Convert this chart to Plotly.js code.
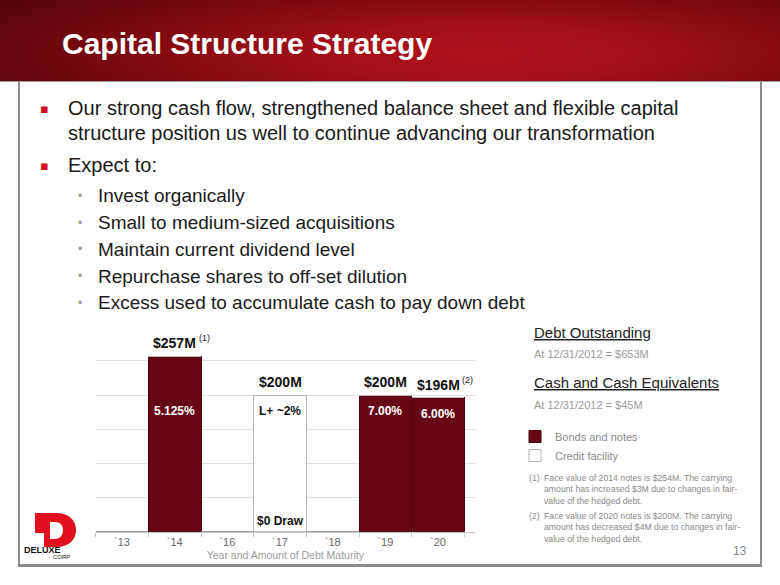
<!DOCTYPE html>
<html>
<head>
<meta charset="utf-8">
<script src="https://cdn.plot.ly/plotly-3.0.1.min.js"></script>
<style>
  html, body { margin:0; padding:0; background:#ffffff; }
  #wrap { position:relative; width:780px; height:585px; overflow:hidden; }
  #header { position:absolute; left:0; top:0; width:780px; height:81px;
    background: radial-gradient(ellipse 72% 120% at 62% 66%, #b3121c 0%, #a10f18 30%, #800a11 60%, #560608 100%);
    border-bottom:1px solid #9a9a9a; }
  #chart { position:absolute; left:0; top:0; width:780px; height:585px; }
</style>
</head>
<body>
<div id="wrap">
  <div id="header"></div>
  <div id="chart"></div>
</div>
<script>
// ---- data ----
const categories = ['`13', '`14', '`16', '`17', '`18', '`19', '`20'];
const bondsNotes = [0, 257, 0, 0, 0, 200, 196];
const creditFacility = [0, 0, 0, 200, 0, 0, 0];
const amountLabels = ['', '$257M', '', '$200M', '', '$200M', '$196M'];
const amountNotes = ['', '(1)', '', '', '', '', '(2)'];
const rateLabels = ['', '5.125%', '', 'L+ ~2%', '', '7.00%', '6.00%'];
const drawLabels = ['', '', '', '$0 Draw', '', '', ''];
const seriesNames = ['Bonds and notes', 'Credit facility'];

const titleText = 'Capital Structure Strategy';
const mainBullets = [
  ['Our strong cash flow, strengthened balance sheet and flexible capital',
   'structure position us well to continue advancing our transformation'],
  ['Expect to:']
];
const subBullets = [
  'Invest organically',
  'Small to medium-sized acquisitions',
  'Maintain current dividend level',
  'Repurchase shares to off-set dilution',
  'Excess used to accumulate cash to pay down debt'
];
const sideHeads = ['Debt Outstanding', 'Cash and Cash Equivalents'];
const sideValues = ['At 12/31/2012 = $653M', 'At 12/31/2012 = $45M'];
const footnoteMarks = ['(1)', '(2)'];
const footnotes = [
  'Face value of 2014 notes is $254M. The carrying<br>amount has increased $3M due to changes in fair-<br>value of the hedged debt.',
  'Face value of 2020 notes is $200M. The carrying<br>amount has decreased $4M due to changes in fair-<br>value of the hedged debt.'
];
const pageNumber = '13';

// ---- helpers (pixel -> paper) ----
const W = 780, H = 585;
const px = x => x / W;
const py = y => 1 - y / H;
const FONT = 'Liberation Sans, Arial, sans-serif';

const BOND = '#660615';

const traces = [
  { type:'bar', name:seriesNames[0], x:categories, y:bondsNotes,
    marker:{ color:BOND, line:{ color:'#4a0410', width:1 } }, hoverinfo:'skip' },
  { type:'bar', name:seriesNames[1], x:categories, y:creditFacility,
    marker:{ color:'#ffffff', line:{ color:'#b4b4b4', width:1 } }, hoverinfo:'skip' }
];

const ann = [];
// bar labels
categories.forEach((c, i) => {
  const total = bondsNotes[i] + creditFacility[i];
  if (amountLabels[i]) {
    ann.push({ x:c, y:total, xref:'x', yref:'y', yanchor:'bottom', yshift:3, showarrow:false,
      text:'<b>' + amountLabels[i] + '</b>', font:{ family:FONT, size:14, color:'#111' } });
  }
  if (amountNotes[i]) {
    ann.push({ x:c, y:total, xref:'x', yref:'y', xanchor:'left', yanchor:'bottom', xshift:22, yshift:11, showarrow:false,
      text:amountNotes[i], font:{ family:FONT, size:9, color:'#222' } });
  }
  if (rateLabels[i]) {
    const isBond = bondsNotes[i] > 0;
    ann.push({ x:c, y:Math.min(total, 200), xref:'x', yref:'y', yanchor:'top', yshift:-7, showarrow:false,
      text:'<b>' + rateLabels[i] + '</b>', font:{ family:FONT, size:12, color:isBond ? '#ffffff' : '#111' } });
  }
  if (drawLabels[i]) {
    ann.push({ x:c, y:0, xref:'x', yref:'y', yanchor:'bottom', yshift:2, showarrow:false,
      text:'<b>' + drawLabels[i] + '</b>', font:{ family:FONT, size:12, color:'#111' } });
  }
});

// bullets text
const mainY = [[108, 133], [165]];
mainBullets.forEach((lines, b) => {
  ann.push({ x:px(38), y:py(mainY[b][0]), xref:'paper', yref:'paper', xanchor:'left', yanchor:'middle', showarrow:false,
    text:'\u25AA', font:{ family:'DejaVu Sans, sans-serif', size:13, color:'#d40f1c' } });
  lines.forEach((t, k) => {
    ann.push({ x:px(66), y:py(mainY[b][k]), xref:'paper', yref:'paper', xanchor:'left', yanchor:'middle', showarrow:false,
      text:t, font:{ family:FONT, size:20, color:'#1a1a1a' } });
  });
});
const subY = [196, 222.7, 249.4, 276.1, 302.7];
subBullets.forEach((t, k) => {
  ann.push({ x:px(76), y:py(subY[k]), xref:'paper', yref:'paper', xanchor:'left', yanchor:'middle', showarrow:false,
    text:'\u2022', font:{ family:FONT, size:12, color:'#9a9a9a' } });
  ann.push({ x:px(96), y:py(subY[k]), xref:'paper', yref:'paper', xanchor:'left', yanchor:'middle', showarrow:false,
    text:t, font:{ family:FONT, size:19, color:'#1a1a1a' } });
});

// side panel
const headY = [332, 382.5], valY = [353.5, 404.5];
sideHeads.forEach((t, k) => {
  ann.push({ x:px(532), y:py(headY[k]), xref:'paper', yref:'paper', xanchor:'left', yanchor:'middle', showarrow:false,
    text:'<u>' + t + '</u>', font:{ family:FONT, size:15, color:'#222' } });
  ann.push({ x:px(532), y:py(valY[k]), xref:'paper', yref:'paper', xanchor:'left', yanchor:'middle', showarrow:false,
    text:sideValues[k], font:{ family:FONT, size:11, color:'#9a9a9a' } });
});
const fnY = [489.3, 527.3];
footnotes.forEach((t, k) => {
  ann.push({ x:px(527), y:py(fnY[k] - 11), xref:'paper', yref:'paper', xanchor:'left', yanchor:'middle', showarrow:false,
    text:footnoteMarks[k], font:{ family:FONT, size:8.7, color:'#8a8a8a' } });
  ann.push({ x:px(542), y:py(fnY[k]), xref:'paper', yref:'paper', xanchor:'left', yanchor:'middle', align:'left', showarrow:false,
    text:t, font:{ family:FONT, size:8.7, color:'#8a8a8a' } });
});
ann.push({ x:px(749), y:py(551), xref:'paper', yref:'paper', xanchor:'right', yanchor:'middle', showarrow:false,
  text:pageNumber, font:{ family:FONT, size:12, color:'#8a8a8a' } });

// logo text
ann.push({ x:px(42.5), y:py(550), xref:'paper', yref:'paper', xanchor:'center', yanchor:'middle', showarrow:false,
  text:'<b>DELUXE</b>', font:{ family:FONT, size:9, color:'#111' } });
ann.push({ x:px(61), y:py(557), xref:'paper', yref:'paper', xanchor:'center', yanchor:'middle', showarrow:false,
  text:'CORP', font:{ family:FONT, size:6, color:'#111' } });

// shapes: frame + logo
const P = (x, y) => px(x).toFixed(5) + ',' + py(y).toFixed(5);
const dPath = 'M' + P(35,513) + ' L' + P(56,513) + ' C' + P(70,513) + ' ' + P(76,521) + ' ' + P(76,530) +
  ' C' + P(76,540) + ' ' + P(69,547) + ' ' + P(56,547) + ' L' + P(44,547) + ' L' + P(44,533) + ' L' + P(35,533) + ' Z' +
  ' M' + P(50,522) + ' L' + P(55,522) + ' C' + P(60,522) + ' ' + P(63,525) + ' ' + P(63,530) +
  ' C' + P(63,535) + ' ' + P(60,539) + ' ' + P(55,539) + ' L' + P(50,539) + ' Z';

const shapes = [
  { type:'line', xref:'paper', yref:'paper', x0:px(19), x1:px(19), y0:py(82), y1:py(566), line:{ color:'#8c8c8c', width:2 } },
  { type:'line', xref:'paper', yref:'paper', x0:px(761), x1:px(761), y0:py(82), y1:py(566), line:{ color:'#8c8c8c', width:2 } },
  { type:'line', xref:'paper', yref:'paper', x0:px(18), x1:px(762), y0:py(565.5), y1:py(565.5), line:{ color:'#8c8c8c', width:3 } },
  { type:'path', xref:'paper', yref:'paper', path:dPath, fillcolor:'#e1101e', fillrule:'evenodd', line:{ width:0 } }
];

const layout = {
  width:W, height:H,
  margin:{ l:0, r:0, t:0, b:0 },
  paper_bgcolor:'rgba(0,0,0,0)', plot_bgcolor:'rgba(0,0,0,0)',
  title:{ text:'<b>' + titleText + '</b>', x:px(62), xanchor:'left', xref:'paper',
    y:py(43), yanchor:'middle', yref:'paper', font:{ family:FONT, size:30, color:'#ffffff' } },
  barmode:'stack', bargap:0,
  showlegend:true,
  legend:{ x:px(515), y:py(422), xanchor:'left', yanchor:'top', traceorder:'normal', bgcolor:'rgba(0,0,0,0)',
    font:{ family:FONT, size:11, color:'#8a8a8a' }, itemclick:false, itemdoubleclick:false },
  xaxis:{ domain:[px(95.7), px(475)], type:'category', categoryorder:'array', categoryarray:categories,
    showline:true, linecolor:'#c4c4c4', linewidth:1, ticks:'outside', tickson:'boundaries', ticklen:4, tickcolor:'#c4c4c4',
    tickfont:{ family:FONT, size:11, color:'#666' }, showgrid:false, fixedrange:true,
    title:{ text:'Year and Amount of Debt Maturity', standoff:4, font:{ family:FONT, size:10.5, color:'#9a9a9a' } } },
  yaxis:{ domain:[py(531.7), py(326.7)], range:[0, 300], dtick:50, showticklabels:false, ticks:'',
    showgrid:true, gridcolor:'#e0e0e0', gridwidth:1, zeroline:false, showline:false, fixedrange:true },
  annotations:ann,
  shapes:shapes
};

Plotly.newPlot('chart', traces, layout, { displayModeBar:false, staticPlot:true });
</script>
</body>
</html>
